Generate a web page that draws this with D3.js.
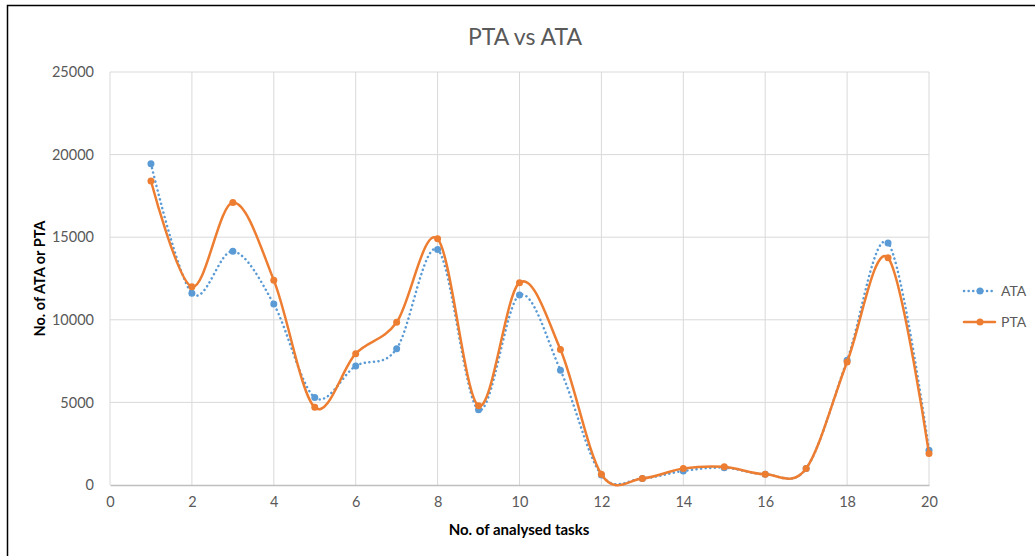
<!DOCTYPE html>
<html>
<head>
<meta charset="utf-8">
<script src="https://cdn.jsdelivr.net/npm/d3@7"></script>
<style>
  body { margin: 0; background: #fff; }
  svg text { font-family: Lato, "Open Sans", sans-serif; }
</style>
</head>
<body>
<script>
// data
var tasks = [1, 2, 3, 4, 5, 6, 7, 8, 9, 10, 11, 12, 13, 14, 15, 16, 17, 18, 19, 20];
var ata = [19450, 11600, 14150, 10950, 5300, 7200, 8250, 14250, 4550, 11500,
           6950, 600, 400, 850, 1050, 650, 1000, 7550, 14650, 2100];
var pta = [18400, 12000, 17100, 12400, 4700, 7950, 9850, 14900, 4800, 12250,
           8200, 650, 400, 1000, 1100, 650, 1000, 7450, 13750, 1900];
var xTicks = [0, 2, 4, 6, 8, 10, 12, 14, 16, 18, 20];
var yTicks = [0, 5000, 10000, 15000, 20000, 25000];

var width = 1035, height = 556;
var margin = {top: 72, right: 106, bottom: 71, left: 110};

var svg = d3.select("body").append("svg")
  .attr("width", width)
  .attr("height", height);

// outer chart frame (only left and top edges show in the reference)
svg.append("path")
  .attr("d", "M7.5," + height + "V5.5H" + width)
  .attr("fill", "none")
  .attr("stroke", "#000")
  .attr("stroke-width", 1.5);

var x = d3.scaleLinear().domain([0, 20]).range([margin.left, width - margin.right]);
var y = d3.scaleLinear().domain([0, 25000]).range([height - margin.bottom, margin.top]);

// gridlines
svg.append("g").selectAll("line.h")
  .data(yTicks.slice(1))
  .enter().append("line")
  .attr("x1", x(0)).attr("x2", x(20))
  .attr("y1", function(d) { return y(d); })
  .attr("y2", function(d) { return y(d); })
  .attr("stroke", "#d9d9d9").attr("stroke-width", 1);

svg.append("g").selectAll("line.v")
  .data(xTicks)
  .enter().append("line")
  .attr("x1", function(d) { return x(d); })
  .attr("x2", function(d) { return x(d); })
  .attr("y1", y(0)).attr("y2", y(25000))
  .attr("stroke", "#d9d9d9").attr("stroke-width", 1);

// x axis
var xAxis = svg.append("g")
  .attr("transform", "translate(0," + y(0) + ")")
  .call(d3.axisBottom(x).tickValues(xTicks).tickSize(0).tickPadding(12));
xAxis.select(".domain").attr("stroke", "#bfbfbf").attr("stroke-width", 1.5);
xAxis.selectAll("text").attr("fill", "#595959").attr("font-size", 14.5);

// y axis
var yAxis = svg.append("g")
  .attr("transform", "translate(" + x(0) + ",0)")
  .call(d3.axisLeft(y).tickValues(yTicks).tickFormat(d3.format("d")).tickSize(0).tickPadding(16));
yAxis.select(".domain").remove();
yAxis.selectAll("text").attr("fill", "#595959").attr("font-size", 14.5);

// titles
svg.append("text")
  .attr("x", 525).attr("y", 45)
  .attr("text-anchor", "middle")
  .attr("font-size", 23)
  .attr("fill", "#595959")
  .text("PTA vs ATA");

svg.append("text")
  .attr("x", 519).attr("y", 535)
  .attr("text-anchor", "middle")
  .attr("font-size", 15)
  .attr("font-weight", "bold")
  .attr("fill", "#000")
  .text("No. of analysed tasks");

svg.append("text")
  .attr("transform", "translate(45," + ((y(0) + y(25000)) / 2) + ") rotate(-90)")
  .attr("text-anchor", "middle")
  .attr("font-size", 14.5)
  .attr("font-weight", "bold")
  .attr("fill", "#000")
  .text("No. of ATA or PTA");

// series
var series = [
  {name: "ATA", values: ata, color: "#5b9bd5", dash: "0.1 4.5"},
  {name: "PTA", values: pta, color: "#ed7d31", dash: null}
];

var line = d3.line()
  .x(function(d, i) { return x(tasks[i]); })
  .y(function(d) { return y(d); })
  .curve(d3.curveCatmullRom.alpha(0));

series.forEach(function(s, k) {
  svg.append("path")
    .datum(s.values)
    .attr("fill", "none")
    .attr("stroke", s.color)
    .attr("stroke-width", 2.5)
    .attr("stroke-linecap", "round")
    .attr("stroke-dasharray", s.dash)
    .attr("d", line);

  svg.append("g").selectAll("circle")
    .data(s.values)
    .enter().append("circle")
    .attr("cx", function(d, i) { return x(tasks[i]); })
    .attr("cy", function(d) { return y(d); })
    .attr("r", 3.5)
    .attr("fill", s.color);

  // legend entry
  var ly = 291 + k * 31;
  svg.append("line")
    .attr("x1", 964).attr("x2", 995)
    .attr("y1", ly).attr("y2", ly)
    .attr("stroke", s.color)
    .attr("stroke-width", 2.5)
    .attr("stroke-linecap", "round")
    .attr("stroke-dasharray", s.dash);
  svg.append("circle")
    .attr("cx", 980).attr("cy", ly).attr("r", 3.5)
    .attr("fill", s.color);
  svg.append("text")
    .attr("x", 1001).attr("y", ly + 5)
    .attr("font-size", 14)
    .attr("fill", "#595959")
    .text(s.name);
});
</script>
</body>
</html>
